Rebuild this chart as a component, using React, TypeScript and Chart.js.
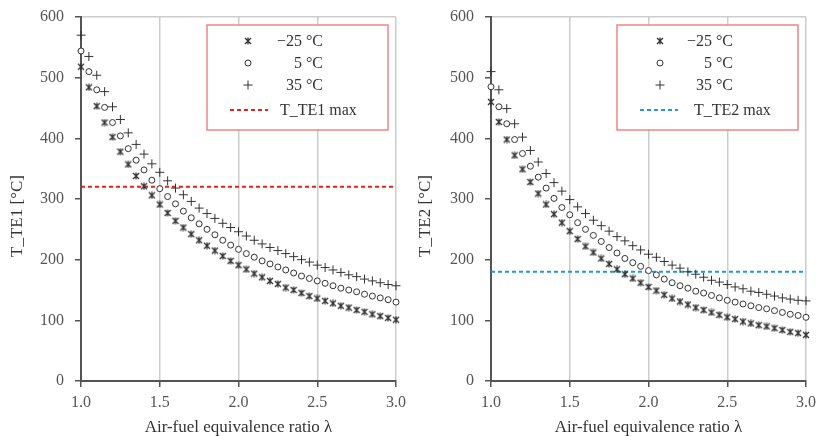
import React, { useEffect, useRef } from 'react';
import { Chart, registerables } from 'chart.js';
Chart.register(...registerables);

// ---------- data ----------
const LAMBDA = [1.0, 1.05, 1.1, 1.15, 1.2, 1.25, 1.3, 1.35, 1.4, 1.45, 1.5, 1.55, 1.6, 1.65, 1.7, 1.75, 1.8, 1.85, 1.9, 1.95, 2.0, 2.05, 2.1, 2.15, 2.2, 2.25, 2.3, 2.35, 2.4, 2.45, 2.5, 2.55, 2.6, 2.65, 2.7, 2.75, 2.8, 2.85, 2.9, 2.95, 3.0];

const TE1_M25 = [518, 484, 453, 426, 402, 378, 357, 338, 321, 306, 291, 277, 264, 253, 242, 232, 223, 215, 206, 198, 191, 184, 177, 171, 165, 160, 154, 150, 145, 140, 136, 132, 128, 124, 121, 117, 114, 110, 107, 104, 101];
const TE1_P5 = [544, 510, 480, 451, 426, 404, 383, 364, 348, 331, 317, 304, 292, 280, 269, 259, 250, 241, 232, 224, 217, 210, 204, 198, 193, 188, 183, 178, 173, 169, 165, 161, 157, 153, 150, 147, 143, 140, 137, 134, 130];
const TE1_P35 = [570, 535, 504, 477, 452, 431, 409, 390, 374, 358, 344, 330, 318, 307, 296, 285, 276, 268, 260, 253, 246, 239, 232, 226, 220, 215, 210, 205, 200, 196, 191, 187, 183, 179, 175, 172, 168, 165, 162, 159, 157];
const TE1_MAX = 320;

const TE2_M25 = [460, 427, 398, 372, 349, 328, 309, 291, 275, 261, 247, 234, 222, 212, 202, 193, 184, 176, 169, 162, 155, 149, 142, 136, 131, 126, 121, 117, 113, 109, 105, 102, 98, 95, 92, 90, 87, 84, 81, 79, 76];
const TE2_P5 = [485, 452, 424, 398, 375, 354, 336, 318, 301, 286, 274, 261, 250, 240, 230, 220, 211, 202, 195, 189, 182, 175, 168, 162, 157, 153, 148, 145, 141, 137, 133, 130, 127, 124, 121, 119, 116, 113, 110, 108, 105];
const TE2_P35 = [510, 480, 449, 424, 402, 380, 361, 342, 327, 313, 299, 287, 276, 265, 256, 247, 238, 231, 223, 216, 209, 204, 197, 191, 186, 180, 176, 171, 166, 163, 159, 155, 152, 148, 146, 143, 140, 137, 135, 133, 132];
const TE2_MAX = 180;

const SERIES_LABELS = ['\u221225 \u00b0C', '5 \u00b0C', '35 \u00b0C'];
const X_MIN = 1.0, X_MAX = 3.0, X_STEP = 0.5;
const Y_MIN = 0, Y_MAX = 600, Y_STEP = 100;
const X_TITLE = 'Air-fuel equivalence ratio \u03bb';
const Y_TITLE_1 = 'T_TE1 [\u00b0C]';
const Y_TITLE_2 = 'T_TE2 [\u00b0C]';
const MAX_LABEL_1 = 'T_TE1 max';
const MAX_LABEL_2 = 'T_TE2 max';

// ---------- styles ----------
const FONT = "'Liberation Serif', 'DejaVu Serif', serif";
const MARK = '#333333';
const AXIS = '#555555';
const GRID = '#cccccc';

function makeStar(): HTMLCanvasElement {
  const c = document.createElement('canvas');
  c.width = 8; c.height = 8;
  const g = c.getContext('2d')!;
  g.strokeStyle = MARK; g.lineWidth = 1.3;
  g.beginPath();
  g.moveTo(1, 1); g.lineTo(7, 7);
  g.moveTo(7, 1); g.lineTo(1, 7);
  g.moveTo(4, 0.5); g.lineTo(4, 7.5);
  g.stroke();
  return c;
}

const pts = (ys: number[]) => LAMBDA.map((x, i) => ({ x, y: ys[i] }));

const decoPlugin = {
  id: 'deco',
  afterDraw(chart: any, _a: any, o: any) {
    const { ctx, chartArea } = chart;
    ctx.save();
    // axis titles
    ctx.fillStyle = '#333';
    ctx.font = `17px ${FONT}`;
    ctx.textAlign = 'center';
    ctx.textBaseline = 'middle';
    ctx.fillText(X_TITLE, (chartArea.left + chartArea.right) / 2, 428);
    ctx.save();
    ctx.translate(18, 216);
    ctx.rotate(-Math.PI / 2);
    ctx.fillText(o.yTitle, 0, 0);
    ctx.restore();

    // legend box
    const L = chartArea.left + 126, T = chartArea.top + 8;
    const R = chartArea.right - 8, B = chartArea.top + 113;
    ctx.fillStyle = '#fff';
    ctx.fillRect(L, T, R - L, B - T);
    ctx.strokeStyle = '#f08585';
    ctx.lineWidth = 1.5;
    ctx.strokeRect(L, T, R - L, B - T);

    const rows = [T + 16, T + 38, T + 60, T + 85];
    const mx = L + o.markerDx;
    ctx.drawImage(o.star, mx - 4, rows[0] - 4);
    ctx.strokeStyle = MARK; ctx.lineWidth = 1;
    ctx.beginPath(); ctx.arc(mx, rows[1], 3, 0, Math.PI * 2); ctx.stroke();
    ctx.beginPath();
    ctx.moveTo(mx - 4.5, rows[2]); ctx.lineTo(mx + 4.5, rows[2]);
    ctx.moveTo(mx, rows[2] - 4.5); ctx.lineTo(mx, rows[2] + 4.5);
    ctx.stroke();
    ctx.strokeStyle = o.maxColor; ctx.lineWidth = 2; ctx.setLineDash([4, 3]);
    ctx.beginPath(); ctx.moveTo(L + 23, rows[3]); ctx.lineTo(L + 61, rows[3]); ctx.stroke();
    ctx.setLineDash([]);

    ctx.fillStyle = '#333';
    ctx.font = `16px ${FONT}`;
    ctx.textAlign = 'right';
    SERIES_LABELS.forEach((t, i) => ctx.fillText(t, L + 116, rows[i] + 1));
    ctx.textAlign = 'left';
    ctx.fillText(o.maxLabel, L + o.maxTextDx, rows[3] + 1);
    ctx.restore();
  },
};

type PanelProps = {
  m25: number[]; p5: number[]; p35: number[];
  maxVal: number; maxColor: string; maxLabel: string; yTitle: string;
  axisWidth: number; rightPad: number; markerDx: number; maxTextDx: number;
};

function Panel(p: PanelProps) {
  const ref = useRef<HTMLCanvasElement>(null);
  useEffect(() => {
    const star = makeStar();
    const common = { showLine: false, clip: false as any, borderColor: MARK, borderWidth: 1 };
    const chart = new Chart(ref.current!, {
      type: 'scatter',
      data: {
        datasets: [
          { ...common, label: SERIES_LABELS[0], data: pts(p.m25), pointStyle: star as any, pointRadius: 4 },
          { ...common, label: SERIES_LABELS[1], data: pts(p.p5), pointStyle: 'circle', pointRadius: 3, backgroundColor: '#fff' },
          { ...common, label: SERIES_LABELS[2], data: pts(p.p35), pointStyle: 'cross', pointRadius: 4.5 },
          {
            label: p.maxLabel, data: [{ x: X_MIN, y: p.maxVal }, { x: X_MAX, y: p.maxVal }],
            showLine: true, borderColor: p.maxColor, borderWidth: 2, borderDash: [4, 3], pointRadius: 0,
          },
        ],
      },
      options: {
        animation: false,
        responsive: false,
        maintainAspectRatio: false,
        layout: { padding: { left: 0, right: p.rightPad, top: 17, bottom: 0 } },
        plugins: {
          legend: { display: false },
          tooltip: { enabled: false },
          deco: { yTitle: p.yTitle, maxLabel: p.maxLabel, maxColor: p.maxColor, star, markerDx: p.markerDx, maxTextDx: p.maxTextDx },
        } as any,
        scales: {
          x: {
            type: 'linear', min: X_MIN, max: X_MAX,
            ticks: { stepSize: X_STEP, callback: (v: any) => Number(v).toFixed(1), font: { family: FONT, size: 16 }, color: '#555', padding: 6, maxRotation: 0 },
            grid: { color: GRID, lineWidth: 1.5, tickColor: AXIS, tickLength: 6 },
            border: { color: AXIS, width: 2 },
            afterFit: (s: any) => { s.height = 55; s.paddingLeft = 0; s.paddingRight = 0; },
          },
          y: {
            type: 'linear', min: Y_MIN, max: Y_MAX,
            ticks: { stepSize: Y_STEP, font: { family: FONT, size: 16 }, color: '#555', padding: 11 },
            grid: {
              color: (c: any) => (c.tick && c.tick.value === Y_MAX ? GRID : 'rgba(0,0,0,0)'),
              lineWidth: 1.5, tickColor: AXIS, tickLength: 6,
            },
            border: { color: AXIS, width: 2 },
            afterFit: (s: any) => { s.width = p.axisWidth; s.paddingTop = 0; s.paddingBottom = 0; },
          },
        } as any,
      },
      plugins: [decoPlugin],
    });
    return () => chart.destroy();
  }, []);
  return <canvas ref={ref} width={408} height={436} style={{ display: 'block', width: 408, height: 436 }} />;
}

export default function App() {
  return (
    <div style={{ position: 'fixed', left: 0, top: 0, width: 816, height: 436, display: 'flex', background: '#fff' }}>
      <Panel m25={TE1_M25} p5={TE1_P5} p35={TE1_P35} maxVal={TE1_MAX} maxColor="#e5221c" maxLabel={MAX_LABEL_1}
        yTitle={Y_TITLE_1} axisWidth={81} rightPad={12} markerDx={41} maxTextDx={73} />
      <Panel m25={TE2_M25} p5={TE2_P5} p35={TE2_P35} maxVal={TE2_MAX} maxColor="#1e9ad8" maxLabel={MAX_LABEL_2}
        yTitle={Y_TITLE_2} axisWidth={83} rightPad={10} markerDx={43} maxTextDx={77} />
    </div>
  );
}
